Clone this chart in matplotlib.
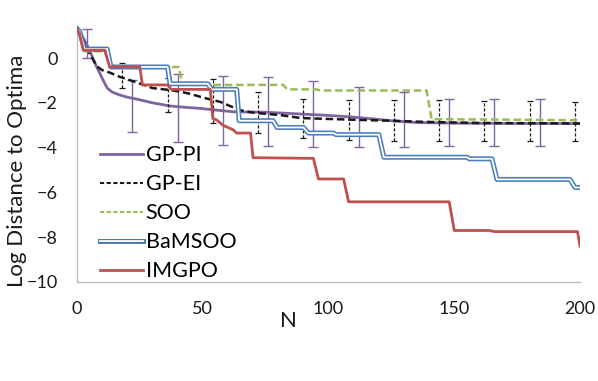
import matplotlib
matplotlib.use("Agg")
import matplotlib.pyplot as plt
import matplotlib.patheffects as pe
from matplotlib.lines import Line2D
import numpy as np

plt.rcParams['font.family'] = ['Lato', 'DejaVu Sans']

# GP-PI
pi_n = [0, 2, 5, 7, 10, 12, 14, 17, 20, 24, 30, 37, 43, 49, 55, 62, 68, 75, 82, 89, 98, 105, 111, 118, 125, 135, 150, 170, 200]
pi_y = [1.35, 1.0, 0.35, -0.2, -0.9, -1.34, -1.52, -1.65, -1.75, -1.84, -2.0, -2.14, -2.2, -2.25, -2.32, -2.4, -2.41, -2.42, -2.46, -2.5, -2.55, -2.6, -2.65, -2.72, -2.8, -2.88, -2.91, -2.92, -2.93]

# GP-EI
ei_n = [0, 2, 5, 8, 10, 13, 17, 20, 24, 30, 37, 41, 45, 49, 53, 57, 61, 65, 69, 73, 81, 89, 100, 111, 125, 138, 160, 200]
ei_y = [1.4, 0.9, 0.2, -0.38, -0.54, -0.65, -0.84, -0.95, -1.1, -1.34, -1.43, -1.5, -1.6, -1.73, -1.85, -1.96, -2.15, -2.33, -2.42, -2.47, -2.55, -2.68, -2.72, -2.76, -2.8, -2.85, -2.9, -2.92]

# SOO
soo_n = [0, 1, 3, 12, 13.5, 40.5, 42, 82, 83.5, 95, 97, 139, 141, 170, 200]
soo_y = [1.3, 1.2, 0.3, 0.3, -0.4, -0.4, -1.2, -1.2, -1.4, -1.4, -1.45, -1.45, -2.73, -2.75, -2.78]

# BaMSOO
bam_n = [0, 1, 3, 12, 13.5, 36, 37, 52, 53.5, 63.5, 64.5, 78, 79.5, 90, 92, 102, 103, 120, 122, 155, 156, 165, 167, 196, 198, 200]
bam_y = [1.3, 1.2, 0.4, 0.4, -0.4, -0.4, -1.15, -1.15, -1.4, -1.4, -2.8, -2.8, -3.1, -3.1, -3.35, -3.35, -3.42, -3.42, -4.43, -4.43, -4.5, -4.5, -5.42, -5.42, -5.78, -5.78]

# IMGPO
img_n = [0, 1, 2.5, 11, 13, 25, 26, 36, 37.5, 53, 54, 55.6, 58, 60, 62, 63.5, 69, 70, 94, 96, 106, 108, 148, 150, 164, 166, 199, 200]
img_y = [1.3, 1.1, 0.35, 0.35, -0.4, -0.4, -1.2, -1.2, -1.4, -1.4, -2.7, -2.77, -3.0, -3.1, -3.2, -3.35, -3.35, -4.45, -4.48, -5.4, -5.4, -6.42, -6.42, -7.7, -7.7, -7.75, -7.75, -8.4]

# error bars (low / high ends)
ei_err_n = [18, 36, 54, 72, 90, 108, 126, 144, 162, 180, 198]
ei_err_hi = [-0.24, -0.9, -0.92, -1.5, -1.83, -1.88, -1.88, -1.88, -1.9, -1.92, -1.95]
ei_err_lo = [-1.35, -2.43, -2.9, -3.33, -3.55, -3.66, -3.7, -3.7, -3.7, -3.7, -3.7]

pi_err_n = [4, 22, 40, 58, 76, 94, 112, 130, 148, 166, 184]
pi_err_hi = [1.28, -0.98, -0.71, -0.79, -0.86, -1.03, -1.28, -1.5, -1.85, -1.85, -1.85]
pi_err_lo = [0.0, -3.3, -3.75, -3.87, -3.93, -3.97, -3.99, -3.96, -3.92, -3.92, -3.92]

c_pi = '#8064a2'
c_ei = '#1a1a1a'
c_soo = '#9bbb59'
c_bam = '#4a7ebb'
c_img = '#c0504d'

fig = plt.figure(figsize=(5.98, 3.81), dpi=100)
ax = fig.add_axes([77/598, 1 - 282/381, 503/598, 256/381])

# GP-PI
ax.plot(pi_n, pi_y, color=c_pi, lw=2.0, zorder=2)
lo = np.array(pi_err_lo); hi = np.array(pi_err_hi)
ax.errorbar(pi_err_n, lo, yerr=[np.zeros_like(lo), hi - lo], fmt='none',
            ecolor=c_pi, elinewidth=1.0, capsize=3.5, capthick=1.0, zorder=2)

# GP-EI
ax.plot(ei_n, ei_y, color=c_ei, lw=1.8, dashes=(3, 1.5), zorder=3)
lo = np.array(ei_err_lo); hi = np.array(ei_err_hi)
eb = ax.errorbar(ei_err_n, lo, yerr=[np.zeros_like(lo), hi - lo], fmt='none',
                 ecolor=c_ei, elinewidth=0.9, capsize=2.5, capthick=0.9, zorder=3)
for lc in eb[2]:
    lc.set_linestyle((0, (2.5, 1.5)))

# SOO
ax.plot(soo_n, soo_y, color=c_soo, lw=1.8, dashes=(3, 1.5), zorder=4)

# BaMSOO (double line)
double = [pe.Stroke(linewidth=3.6, foreground=c_bam), pe.Normal()]
ax.plot(bam_n, bam_y, color='white', lw=1.3, zorder=5, path_effects=double)

# IMGPO
ax.plot(img_n, img_y, color=c_img, lw=2.0, zorder=6)

ax.set_xlim(0, 200)
ax.set_ylim(-10, 1.43)
ax.set_xticks([0, 50, 100, 150, 200])
ax.set_yticks([0, -2, -4, -6, -8, -10])
ax.tick_params(length=0, labelsize=13, colors='#1a1a1a')
ax.tick_params(axis='x', pad=14)
ax.tick_params(axis='y', pad=14)
for s in ['top', 'right']:
    ax.spines[s].set_visible(False)
for s in ['left', 'bottom']:
    ax.spines[s].set_color('#bfbfbf')
    ax.spines[s].set_linewidth(1.0)

ax.set_xlabel('N', fontsize=16, color='#1a1a1a')
ax.xaxis.set_label_coords(0.42, -0.115)
ax.set_ylabel('Log Distance to Optima', fontsize=16, color='#1a1a1a')
ax.yaxis.set_label_coords(-0.10, 0.434)

h_pi = Line2D([], [], color=c_pi, lw=2.0)
h_ei = Line2D([], [], color=c_ei, lw=1.5, dashes=(2, 1.2))
h_soo = Line2D([], [], color=c_soo, lw=1.5, dashes=(2, 1.2))
h_bam = Line2D([], [], color='white', lw=1.3, path_effects=double)
h_img = Line2D([], [], color=c_img, lw=2.0)
ax.legend([h_pi, h_ei, h_soo, h_bam, h_img], ['GP-PI', 'GP-EI', 'SOO', 'BaMSOO', 'IMGPO'],
          loc='upper left', bbox_to_anchor=(0.046, 0.535), frameon=False,
          fontsize=15.5, handlelength=2.0, handletextpad=0.12, labelspacing=0.42,
          borderaxespad=0.0, borderpad=0.0)

fig.savefig('out.png', dpi=100)
